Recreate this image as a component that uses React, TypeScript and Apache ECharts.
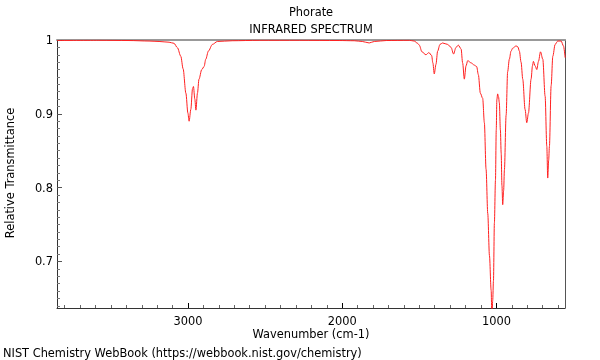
import React, { useEffect, useRef } from "react";
import * as echarts from "echarts";

const wavenumbers = [
  3850, 3578, 3383, 3253, 3188, 3123, 3091, 3069, 3047, 3032, 3014, 3001, 2993, 2982, 2971, 2965, 2956, 2949,
  2939, 2929, 2911, 2896, 2885, 2868, 2842, 2810, 2714, 2539, 2279, 2020, 1922, 1870, 1825, 1792, 1714, 1565,
  1533, 1511, 1500, 1483, 1457, 1438, 1420, 1412, 1403, 1392, 1381, 1366, 1349, 1316, 1294, 1278, 1262, 1247,
  1229, 1219, 1208, 1197, 1186, 1164, 1143, 1128, 1117, 1104, 1089, 1078, 1067, 1056, 1045, 1034, 1029, 1024,
  1019, 1013, 1006, 1001, 997, 992, 986, 981, 974, 969, 964, 959, 953, 948, 937, 927, 916, 905, 894, 872, 860,
  851, 840, 829, 814, 803, 792, 775, 766, 760, 749, 738, 727, 714, 699, 684, 673, 667, 661, 656, 645, 634, 619,
  602, 580, 565, 554,
];
const transmittance = [
  0.9993, 0.9996, 0.9993, 0.9986, 0.998, 0.997, 0.9955, 0.9896, 0.978, 0.961, 0.928, 0.901, 0.89, 0.906, 0.934,
  0.937, 0.92, 0.905, 0.928, 0.947, 0.96, 0.964, 0.974, 0.985, 0.994, 0.998, 0.999, 0.9996, 0.9996, 0.9993, 0.999,
  0.998, 0.996, 0.998, 0.9993, 0.9996, 0.9986, 0.9955, 0.993, 0.984, 0.98, 0.983, 0.979, 0.969, 0.954, 0.967,
  0.985, 0.994, 0.996, 0.994, 0.99, 0.981, 0.99, 0.993, 0.988, 0.969, 0.947, 0.965, 0.972, 0.969, 0.966, 0.964,
  0.953, 0.928, 0.921, 0.888, 0.825, 0.765, 0.708, 0.661, 0.62, 0.647, 0.674, 0.752, 0.81, 0.878, 0.919, 0.927,
  0.923, 0.915, 0.878, 0.847, 0.803, 0.777, 0.796, 0.824, 0.898, 0.957, 0.974, 0.985, 0.989, 0.992, 0.9905, 0.985,
  0.97, 0.947, 0.906, 0.888, 0.901, 0.947, 0.965, 0.971, 0.965, 0.96, 0.971, 0.984, 0.974, 0.924, 0.856, 0.813,
  0.837, 0.856, 0.938, 0.978, 0.994, 0.9986, 0.9986, 0.992, 0.976,
];
const xLabelValues = [1000, 2000, 3000];
const xMinorValues = [600, 700, 800, 900, 1000, 1100, 1200, 1300, 1400, 1500, 1600, 1700, 1800, 1900, 2000, 2100, 2200, 2300, 2400, 2500, 2600, 2700, 2800, 2900, 3000, 3100, 3200, 3300, 3400, 3500, 3600, 3700, 3800];
const yLabelValues = [0.7, 0.8, 0.9, 1];
const yMinorValues = [0.64, 0.65, 0.66, 0.67, 0.68, 0.69, 0.7, 0.71, 0.72, 0.73, 0.74, 0.75, 0.76, 0.77, 0.78, 0.79, 0.8, 0.81, 0.82, 0.83, 0.84, 0.85, 0.86, 0.87, 0.88, 0.89, 0.9, 0.91, 0.92, 0.93, 0.94, 0.95, 0.96, 0.97, 0.98, 0.99, 1];

const X_MIN = 555;
const X_MAX = 3850;
const Y_MIN = 0.637;
const Y_MAX = 1;
const FONT = "DejaVu Sans";
const FS = 11.4;

export default function App() {
  const ref = useRef<HTMLDivElement>(null);
  useEffect(() => {
    if (!ref.current) return;
    const chart = echarts.init(ref.current, null, { renderer: "svg" });
    const data = wavenumbers.map((w, i) => [w, transmittance[i]]);
    const baseX = { type: "value", min: X_MIN, max: X_MAX, inverse: true, splitLine: { show: false } };
    const baseY = { type: "value", min: Y_MIN, max: Y_MAX, splitLine: { show: false } };
    const textStyle = (text: string, align: string) => ({
      text,
      font: `${FS}px "${FONT}"`,
      fill: "#000",
      textAlign: align,
      textVerticalAlign: "middle",
      lineHeight: 11,
    });
    chart.setOption({
      animation: false,
      grid: { left: 57, right: 35, top: 40, bottom: 52 },
      xAxis: [
        {
          ...baseX,
          position: "bottom",
          axisLine: { lineStyle: { color: "#333", width: 1 } },
          axisTick: { inside: true, length: 3, customValues: xMinorValues, lineStyle: { color: "#666" } },
          axisLabel: {
            customValues: xLabelValues,
            color: "#000",
            fontFamily: FONT,
            fontSize: FS,
            lineHeight: 11,
            margin: 7,
            formatter: (v: number) => String(Math.round(v)),
          },
        },
        {
          ...baseX,
          position: "bottom",
          axisLine: { show: false },
          axisTick: { inside: true, length: 5, customValues: xLabelValues, lineStyle: { color: "#000" } },
          axisLabel: { show: false },
        },
        {
          ...baseX,
          position: "top",
          axisLine: { lineStyle: { color: "#999", width: 2 } },
          axisTick: { show: false },
          axisLabel: { show: false },
        },
      ],
      yAxis: [
        {
          ...baseY,
          position: "left",
          axisLine: { show: true, lineStyle: { color: "#333", width: 1 } },
          axisTick: { show: true, inside: true, length: 3, customValues: yMinorValues, lineStyle: { color: "#777" } },
          axisLabel: {
            customValues: yLabelValues,
            color: "#000",
            fontFamily: FONT,
            fontSize: FS,
            margin: 4,
            formatter: (v: number) => String(Math.round(v * 10) / 10),
          },
        },
        {
          ...baseY,
          position: "left",
          axisLine: { show: false },
          axisTick: { show: true, inside: true, length: 5, customValues: yLabelValues, lineStyle: { color: "#555" } },
          axisLabel: { show: false },
        },
        {
          ...baseY,
          position: "right",
          axisLine: { show: true, lineStyle: { color: "#555", width: 1 } },
          axisTick: { show: false },
          axisLabel: { show: false },
        },
      ],
      series: [
        {
          type: "line",
          xAxisIndex: 0,
          yAxisIndex: 0,
          data,
          showSymbol: false,
          smooth: 0.3,
          smoothMonotone: "x",
          clip: true,
          lineStyle: { color: "#ff2020", width: 1 },
        },
      ],
      graphic: [
        { type: "text", x: 311, y: 12, style: textStyle("Phorate", "center") },
        { type: "text", x: 311, y: 29, style: textStyle("INFRARED SPECTRUM", "center") },
        { type: "text", x: 311, y: 334, style: textStyle("Wavenumber (cm-1)", "center") },
        { type: "text", x: 10, y: 173, rotation: Math.PI / 2, style: textStyle("Relative Transmittance", "center") },
        { type: "text", x: 3, y: 353, style: textStyle("NIST Chemistry WebBook (https://webbook.nist.gov/chemistry)", "left") },
      ],
    });
    return () => chart.dispose();
  }, []);
  return <div ref={ref} style={{ position: "fixed", left: 0, top: 0, width: 600, height: 360 }} />;
}
